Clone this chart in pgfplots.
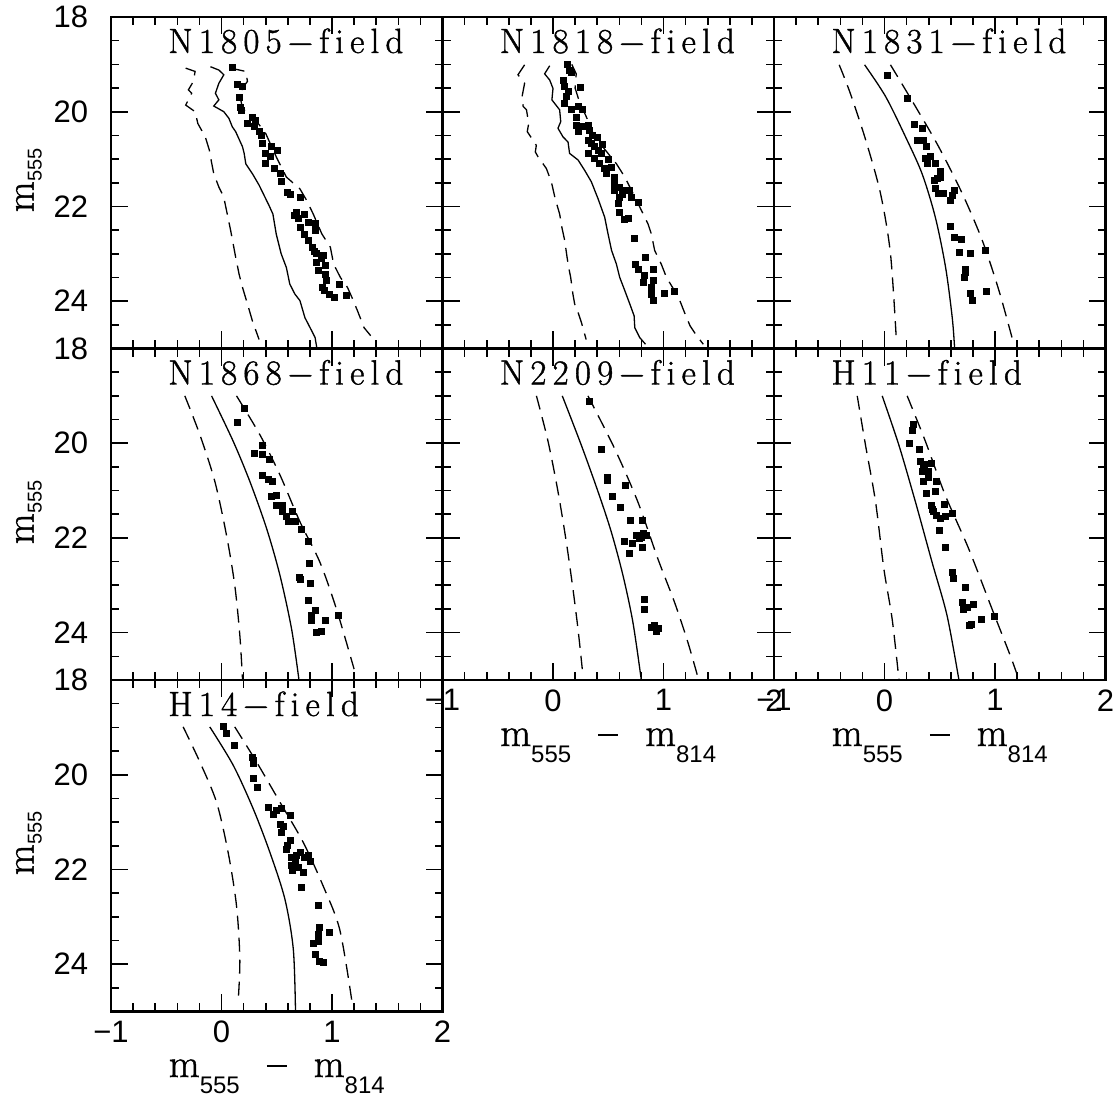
\documentclass[border=0pt]{standalone}
\usepackage{fontspec}
\usepackage{pgfplots}
\pgfplotsset{compat=1.18}
\newfontfamily\ticksans{Liberation Sans}
\newfontfamily\hfont[FakeBold=1.2]{Latin Modern Roman}
\newcommand\mlab[1]{{\hfont m}\raisebox{-8pt}{\ticksans\fontsize{12}{12}\selectfont #1}}
\newcommand\xlab{{\fontsize{20}{22}\selectfont\mlab{555}\hspace{13.5pt}\rule[0.25em]{10pt}{0.9pt}\hspace{13.5pt}\mlab{814}}}
\newcommand\ylab{{\fontsize{20}{22}\selectfont{\hfont m}\raisebox{-4pt}{\ticksans\fontsize{10}{10}\selectfont 555}}}
\newcommand\ks{\kern3.1pt}
\newcommand\ptitle[1]{\node[anchor=base west,inner sep=0pt] at (axis description cs:0.172,1) [yshift=-18pt] {\hfont\fontsize{17.5}{20}\selectfont #1};}
\pgfplotsset{
  panel/.style={
    scale only axis, width=165.75pt, height=165.75pt,
    xmin=-1, xmax=2, ymin=18, ymax=25, y dir=reverse,
    xtick={-1,0,1,2}, ytick={18,20,22,24},
    minor xtick={-0.8,-0.6,-0.4,-0.2,0.2,0.4,0.6,0.8,1.2,1.4,1.6,1.8},
    minor ytick={18.5,19,19.5,20.5,21,21.5,22.5,23,23.5,24.5},
    xticklabels={}, yticklabels={},
    tick align=inside, major tick length=8.5pt, minor tick length=4pt,
    axis line style={line width=1.1pt},
    every tick/.style={line width=0.8pt, black},
    tick label style={font=\ticksans\fontsize{15.5}{15.5}\selectfont, inner sep=1pt},
    yticklabel shift=10.2pt, xticklabel shift=3.5pt,
    anchor=north west,
  },
  xlabs/.style={xticklabels={−1,0,1,2}},
  ylabs/.style={yticklabels={18,20,22,24}},
  pts/.style={only marks, mark=square*, mark size=1.5pt, black},
  sol/.style={black, line width=0.65pt, no marks},
  dsh/.style={black, line width=0.65pt, no marks, dash pattern=on 7pt off 4pt},
}
\begin{document}
\begin{tikzpicture}
\useasboundingbox (0,0) rectangle (558.5pt,-548pt);
% ---------- N1805 ----------
\begin{axis}[panel, ylabs, at={(55.5pt,-8.5pt)}]
\addplot[pts] coordinates {(0.098,19.06)(0.144,19.43)(0.19,19.47)(0.16,19.70)(0.174,19.91)(0.18,19.98)(0.235,20.25)(0.28,20.11)(0.31,20.18)(0.34,20.42)(0.36,20.49)(0.37,20.67)(0.40,20.88)(0.45,20.74)(0.51,20.81)(0.40,21.10)(0.48,21.20)(0.53,21.31)(0.54,21.48)(0.60,21.70)(0.71,21.80)(0.68,22.12)(0.75,22.16)(0.71,22.44)(0.79,22.33)(0.85,22.35)(0.85,22.51)(0.79,22.71)(0.82,22.86)(0.86,23.0)(0.92,23.04)(0.86,23.18)(0.94,23.25)(0.88,23.36)(0.94,23.43)(0.95,23.57)(0.91,23.70)(0.98,23.85)(1.02,23.92)(1.07,23.65)(1.13,23.87)(0.30,20.30)(0.44,20.95)(0.62,21.75)(0.70,22.25)(0.66,22.20)(0.75,22.60)(0.84,22.95)(0.90,23.10)(0.93,23.78)};
\addplot[dsh] coordinates {(-0.324,19.08)(-0.239,19.15)(-0.254,19.36)(-0.30,19.54)(-0.27,19.61)(-0.324,19.86)(-0.239,20.0)(-0.214,20.25)(-0.147,20.53)(-0.11,20.81)(-0.10,20.95)(-0.07,21.31)(-0.024,21.59)(0.02,21.80)(0.083,22.51)(0.128,23.07)(0.159,23.43)(0.19,23.71)(0.235,24.06)(0.28,24.42)(0.34,24.81)};
\addplot[sol] coordinates {(-0.10,19.05)(-0.024,19.12)(0.021,19.22)(-0.024,19.40)(-0.055,19.61)(-0.024,19.75)(-0.07,19.88)(0.021,20.0)(0.067,20.14)(0.098,20.32)(0.128,20.42)(0.19,20.74)(0.205,20.88)(0.22,21.10)(0.28,21.31)(0.34,21.55)(0.43,21.98)(0.465,22.16)(0.495,22.58)(0.54,23.0)(0.587,23.29)(0.618,23.64)(0.664,23.85)(0.71,23.99)(0.755,24.35)(0.817,24.63)(0.847,24.77)(0.862,24.98)};
\addplot[dsh] coordinates {(0.083,19.08)(0.22,19.15)(0.235,19.36)(0.19,19.5)(0.17,19.7)(0.19,19.93)(0.31,20.18)(0.40,20.46)(0.495,20.95)(0.587,21.38)(0.71,21.63)(0.77,21.87)(0.83,22.16)(0.908,22.58)(0.985,22.86)(1.015,23.22)(1.076,23.50)(1.14,23.71)(1.18,23.92)(1.23,24.20)(1.29,24.56)(1.35,24.73)};
\ptitle{N\ks 1\ks 8\ks 0\ks 5\ks −\ks f\ks i\ks e\ks l\ks d}
\end{axis}
% ---------- N1818 ----------
\begin{axis}[panel, at={(221.25pt,-8.5pt)}]
\addplot[pts] coordinates {(0.13,19.01)(0.15,19.12)(0.166,19.17)(0.09,19.33)(0.106,19.47)(0.136,19.58)(0.248,19.48)(0.12,19.68)(0.106,19.82)(0.166,19.96)(0.227,19.89)(0.27,19.95)(0.21,20.11)(0.21,20.28)(0.227,20.42)(0.27,20.32)(0.317,20.28)(0.33,20.39)(0.317,20.60)(0.347,20.67)(0.317,20.88)(0.378,20.74)(0.41,20.81)(0.44,20.88)(0.378,20.99)(0.42,21.10)(0.468,21.20)(0.53,21.17)(0.483,21.31)(0.56,21.38)(0.56,21.52)(0.56,21.66)(0.604,21.59)(0.65,21.66)(0.695,21.66)(0.71,21.80)(0.77,21.91)(0.604,21.80)(0.59,21.94)(0.604,22.12)(0.65,22.28)(0.68,22.26)(0.734,22.67)(0.84,23.07)(0.749,23.22)(0.77,23.32)(0.906,23.32)(0.83,23.46)(0.815,23.60)(0.906,23.57)(0.89,23.71)(0.89,23.85)(0.906,23.99)(1.01,23.83)(1.097,23.80)(0.40,20.55)(0.45,20.70)(0.36,20.50)(0.50,21.00)(0.63,21.75)};
\addplot[dsh] coordinates {(-0.257,19.01)(-0.317,19.22)(-0.257,19.40)(-0.28,19.68)(-0.27,19.89)(-0.24,19.96)(-0.22,20.25)(-0.233,20.42)(-0.151,20.71)(-0.16,20.85)(-0.136,20.95)(-0.06,21.20)(-0.015,21.48)(0.02,21.84)(0.06,22.16)(0.08,22.44)(0.106,22.72)(0.127,23.07)(0.142,23.29)(0.16,23.50)(0.18,23.85)(0.196,24.06)(0.227,24.24)(0.257,24.45)(0.30,24.81)};
\addplot[sol] coordinates {(-0.03,19.03)(-0.076,19.20)(-0.03,19.33)(0.0,19.51)(-0.01,19.75)(0.06,19.96)(0.07,20.21)(0.045,20.35)(0.09,20.53)(0.136,20.64)(0.15,20.88)(0.227,21.02)(0.287,21.24)(0.347,21.48)(0.408,21.84)(0.468,22.23)(0.498,22.58)(0.53,22.93)(0.574,23.22)(0.604,23.50)(0.65,23.78)(0.695,24.06)(0.734,24.31)(0.74,24.56)(0.785,24.77)(0.837,24.91)};
\addplot[dsh] coordinates {(0.17,19.0)(0.21,19.2)(0.20,19.5)(0.24,19.8)(0.30,20.1)(0.37,20.5)(0.47,20.8)(0.574,21.10)(0.65,21.38)(0.755,21.87)(0.86,22.37)(0.89,22.58)(0.92,22.93)(0.98,23.22)(1.027,23.50)(1.10,23.78)(1.148,23.99)(1.19,24.24)(1.24,24.52)(1.30,24.73)(1.36,24.91)};
\ptitle{N\ks 1\ks 8\ks 1\ks 8\ks −\ks f\ks i\ks e\ks l\ks d}
\end{axis}
% ---------- N1831 ----------
\begin{axis}[panel, at={(387pt,-8.5pt)}]
\addplot[pts] coordinates {(0.03,19.24)(0.21,19.72)(0.266,20.27)(0.34,20.35)(0.296,20.60)(0.356,20.60)(0.378,20.74)(0.37,20.99)(0.417,20.95)(0.387,21.10)(0.462,21.10)(0.51,21.27)(0.447,21.45)(0.51,21.38)(0.462,21.63)(0.49,21.73)(0.537,21.73)(0.598,21.87)(0.628,21.66)(0.61,21.77)(0.598,22.42)(0.628,22.66)(0.698,22.69)(0.68,22.98)(0.78,23.0)(0.915,22.93)(0.728,23.32)(0.725,23.50)(0.78,23.83)(0.795,23.99)(0.924,23.80)(0.48,21.40)(0.73,23.40)};
\addplot[dsh, smooth] coordinates {(-0.41,19.01)(-0.31,19.61)(-0.17,20.60)(-0.036,21.73)(0.054,23.0)(0.106,24.77)};
\addplot[sol, smooth] coordinates {(-0.18,19.01)(0.01,19.68)(0.19,20.53)(0.34,21.31)(0.46,22.23)(0.553,23.29)(0.613,24.35)(0.634,24.98)};
\addplot[dsh, smooth] coordinates {(0.054,19.01)(0.28,19.89)(0.49,20.74)(0.704,21.73)(0.885,22.72)(1.036,23.78)(1.17,24.91)};
\ptitle{N\ks 1\ks 8\ks 3\ks 1\ks −\ks f\ks i\ks e\ks l\ks d}
\end{axis}
% ---------- N1868 ----------
\begin{axis}[panel, ylabs, at={(55.5pt,-174.25pt)}]
\addplot[pts] coordinates {(0.205,19.27)(0.142,19.57)(0.369,20.05)(0.296,20.21)(0.369,20.23)(0.43,20.34)(0.369,20.67)(0.423,20.76)(0.459,20.81)(0.453,21.12)(0.50,21.10)(0.50,21.31)(0.55,21.31)(0.553,21.45)(0.589,21.55)(0.643,21.45)(0.604,21.66)(0.665,21.66)(0.725,21.82)(0.785,22.07)(0.795,22.54)(0.704,22.83)(0.713,22.88)(0.80,22.95)(0.785,23.31)(0.85,23.53)(0.816,23.64)(0.816,23.75)(0.94,23.75)(1.057,23.64)(0.86,23.99)(0.906,23.98)};
\addplot[dsh, smooth] coordinates {(-0.332,19.0)(-0.196,19.82)(-0.06,20.81)(0.045,21.94)(0.12,23.0)(0.166,24.06)(0.19,24.98)};
\addplot[sol, smooth] coordinates {(-0.09,19.0)(0.106,19.96)(0.257,20.81)(0.408,21.80)(0.529,22.79)(0.634,23.92)(0.70,24.98)};
\addplot[dsh, smooth] coordinates {(0.136,19.0)(0.347,19.82)(0.529,20.67)(0.71,21.66)(0.89,22.51)(1.04,23.50)(1.2,24.77)};
\ptitle{N\ks 1\ks 8\ks 6\ks 8\ks −\ks f\ks i\ks e\ks l\ks d}
\end{axis}
% ---------- N2209 ----------
\begin{axis}[panel, xlabs, at={(221.25pt,-174.25pt)}]
\addplot[pts] coordinates {(0.33,19.12)(0.434,20.14)(0.488,20.73)(0.488,20.79)(0.657,20.90)(0.533,21.12)(0.614,21.36)(0.696,21.63)(0.81,21.64)(0.753,21.94)(0.80,21.98)(0.843,21.94)(0.648,22.07)(0.723,22.12)(0.81,22.21)(0.687,22.33)(0.828,23.29)(0.828,23.50)(0.89,23.89)(0.95,23.92)(0.934,23.98)(0.78,22.00)(0.82,21.90)(0.92,23.85)};
\addplot[dsh, smooth] coordinates {(-0.15,19.0)(-0.045,19.96)(0.045,21.02)(0.12,22.08)(0.18,23.07)(0.226,23.92)(0.265,24.77)};
\addplot[sol, smooth] coordinates {(0.084,19.0)(0.256,20.04)(0.407,21.02)(0.527,21.87)(0.633,22.79)(0.723,23.78)(0.798,24.98)};
\addplot[dsh, smooth] coordinates {(0.316,19.0)(0.557,20.11)(0.768,21.24)(0.949,22.44)(1.10,23.36)(1.22,24.20)(1.316,24.98)};
\ptitle{N\ks 2\ks 2\ks 0\ks 9\ks −\ks f\ks i\ks e\ks l\ks d}
\end{axis}
% ---------- H11 ----------
\begin{axis}[panel, xlabs, at={(387pt,-174.25pt)}]
\addplot[pts] coordinates {(0.256,19.72)(0.226,20.0)(0.32,20.13)(0.325,20.39)(0.355,20.49)(0.42,20.42)(0.34,20.60)(0.355,20.80)(0.40,20.73)(0.467,20.81)(0.46,21.02)(0.376,21.06)(0.42,21.31)(0.54,21.29)(0.446,21.45)(0.506,21.59)(0.55,21.55)(0.611,21.48)(0.497,21.84)(0.55,22.19)(0.617,22.73)(0.626,22.86)(0.732,23.05)(0.708,23.36)(0.747,23.46)(0.807,23.41)(0.717,23.50)(0.877,23.71)(0.997,23.66)(0.768,23.85)(0.786,23.82)(0.26,19.60)(0.36,20.45)(0.40,20.60)(0.43,21.40)(0.47,21.52)};
\addplot[dsh, smooth] coordinates {(-0.247,19.0)(-0.172,20.04)(-0.081,21.24)(-0.006,22.65)(0.069,23.71)(0.13,24.98)};
\addplot[sol, smooth] coordinates {(-0.021,19.0)(0.13,20.04)(0.28,21.24)(0.43,22.51)(0.566,23.64)(0.672,24.98)};
\addplot[dsh, smooth] coordinates {(0.205,19.0)(0.37,19.96)(0.55,21.10)(0.762,22.23)(0.973,23.50)(1.139,24.49)(1.214,24.98)};
\ptitle{H\ks 1\ks 1\ks −\ks f\ks i\ks e\ks l\ks d}
\end{axis}
% ---------- H14 ----------
\begin{axis}[panel, xlabs, ylabs, at={(55.5pt,-340pt)}]
\addplot[pts] coordinates {(0.015,18.99)(0.04,19.13)(0.12,19.38)(0.28,19.63)(0.287,19.77)(0.287,20.08)(0.323,20.26)(0.423,20.69)(0.468,20.83)(0.544,20.72)(0.62,20.86)(0.53,21.04)(0.544,21.22)(0.62,21.39)(0.59,21.57)(0.634,21.75)(0.71,21.64)(0.785,21.71)(0.80,21.82)(0.634,21.92)(0.665,21.85)(0.74,22.06)(0.64,22.03)(0.722,22.38)(0.876,22.77)(0.89,23.22)(0.976,23.34)(0.876,23.37)(0.83,23.57)(0.88,23.53)(0.846,23.80)(0.89,23.94)(0.92,23.96)(0.29,19.70)(0.50,20.75)(0.56,21.10)(0.60,21.50)(0.68,21.70)(0.75,21.75)(0.70,21.95)};
\addplot[dsh, smooth] coordinates {(-0.347,18.99)(-0.196,19.73)(-0.045,20.58)(0.06,21.64)(0.136,22.77)(0.166,23.90)(0.15,24.82)};
\addplot[sol, smooth] coordinates {(-0.106,18.99)(0.106,19.80)(0.287,20.72)(0.438,21.64)(0.574,22.63)(0.65,23.69)(0.67,25.03)};
\addplot[dsh, smooth] coordinates {(0.12,18.99)(0.317,19.73)(0.529,20.58)(0.74,21.43)(0.92,22.35)(1.07,23.27)(1.178,24.75)};
\ptitle{H\ks 1\ks 4\ks −\ks f\ks i\ks e\ks l\ks d}
\end{axis}
% ---------- axis labels ----------
\node[rotate=90, inner sep=0pt] at (14.5pt,-90pt) {\ylab};
\node[rotate=90, inner sep=0pt] at (14.5pt,-256pt) {\ylab};
\node[rotate=90, inner sep=0pt] at (14.5pt,-421.5pt) {\ylab};
\node[anchor=base, inner sep=0pt] at (138.4pt,-538.5pt) {\xlab};
\node[anchor=base, inner sep=0pt] at (304.1pt,-373pt) {\xlab};
\node[anchor=base, inner sep=0pt] at (469.9pt,-373pt) {\xlab};
\end{tikzpicture}
\end{document}
